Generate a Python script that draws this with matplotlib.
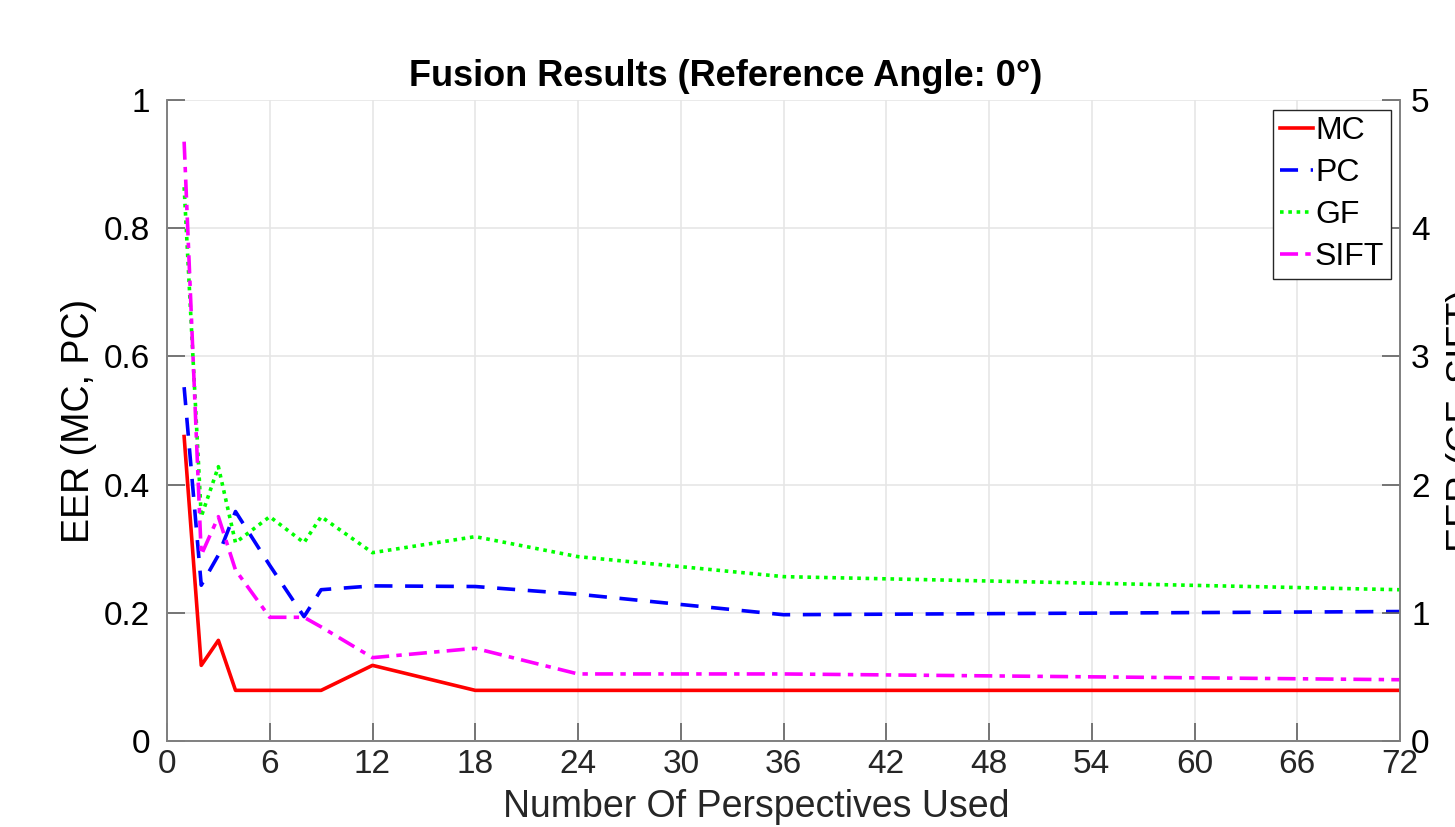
import matplotlib
matplotlib.use('Agg')
import matplotlib.pyplot as plt
from matplotlib.lines import Line2D

plt.rcParams['font.family'] = ['Liberation Sans', 'DejaVu Sans']

# numero de perspectivas usadas
x_vals = [1, 2, 3, 4, 6, 8, 9, 12, 18, 24, 36, 72]

# eje izquierdo
mc = [0.475, 0.118, 0.157, 0.079, 0.079, 0.079, 0.079, 0.118, 0.079, 0.079, 0.079, 0.079]
pc = [0.552, 0.243, 0.290, 0.358, 0.274, 0.194, 0.236, 0.242, 0.241, 0.229, 0.197, 0.202]

# eje derecho
gf = [4.32, 1.75, 2.14, 1.547, 1.75, 1.547, 1.75, 1.469, 1.594, 1.438, 1.282, 1.18]
sift = [4.675, 1.451, 1.75, 1.334, 0.965, 0.965, 0.89, 0.65, 0.723, 0.523, 0.523, 0.478]

x_ticks = list(range(0, 73, 6))

fig = plt.figure(figsize=(14.55, 8.27), dpi=100)
ax = fig.add_axes([167 / 1455, 1 - 741 / 827, (1400 - 167) / 1455, (741 - 100) / 827])
ax2 = ax.twinx()

lw = 2.6
ax.plot(x_vals, mc, color='#ff0000', linestyle='-', linewidth=lw)
ax.plot(x_vals, pc, color='#0000ff', linestyle=(0, (5, 3.5)), linewidth=lw)
ax2.plot(x_vals, gf, color='#00ff00', linestyle=(0, (1, 1.3)), linewidth=lw)
ax2.plot(x_vals, sift, color='#ff00ff', linestyle=(0, (5, 2, 1.5, 2)), linewidth=lw)

ax.set_xlim(0, 72)
ax.set_ylim(0, 1)
ax2.set_ylim(0, 5)
ax.set_xticks(x_ticks)
ax.set_yticks([0, 0.2, 0.4, 0.6, 0.8, 1])
ax.set_yticklabels(['0', '0.2', '0.4', '0.6', '0.8', '1'])
ax2.set_yticks([0, 1, 2, 3, 4, 5])

ax.grid(True, color='#e6e6e6', linewidth=1.2)
ax.set_axisbelow(True)

for a in (ax, ax2):
    a.spines['top'].set_visible(False)
    for s in ('left', 'right', 'bottom'):
        a.spines[s].set_color('#808080')
        a.spines[s].set_linewidth(1.2)
    a.tick_params(direction='in', length=13, width=1.2, color='#606060', labelsize=24)

ax.tick_params(axis='x', colors='#606060', labelcolor='#262626', pad=6)
ax.tick_params(axis='y', labelcolor='black', pad=12)
ax2.tick_params(axis='y', labelcolor='black', pad=8)

ax.set_xlabel('Number Of Perspectives Used', fontsize=27, color='#262626', labelpad=6)
ax.xaxis.set_label_coords(0.478, -0.075)
ax.set_ylabel('EER (MC, PC)', fontsize=27)
ax.yaxis.set_label_coords(-0.057, 0.5)
ax2.set_ylabel('EER (GF, SIFT)', fontsize=27, labelpad=12)
ax.set_title('Fusion Results (Reference Angle: 0°)', fontsize=26, fontweight='bold',
             pad=10, x=0.453)

handles = [
    Line2D([], [], color='#ff0000', linestyle='-', linewidth=lw),
    Line2D([], [], color='#0000ff', linestyle=(0, (5, 3.5)), linewidth=lw),
    Line2D([], [], color='#00ff00', linestyle=(0, (1, 1.3)), linewidth=lw),
    Line2D([], [], color='#ff00ff', linestyle=(0, (5, 2, 1.5, 2)), linewidth=lw),
]
leg = ax2.legend(handles, ['MC', 'PC', 'GF', 'SIFT'], loc='upper right',
                 bbox_to_anchor=(0.9925, 0.985), fontsize=23, handlelength=1.05,
                 handletextpad=0.05, borderpad=0.2, labelspacing=0.38,
                 borderaxespad=0, fancybox=False, framealpha=1)
leg.get_frame().set_edgecolor('#262626')
leg.get_frame().set_linewidth(1.0)

fig.savefig('out.png', dpi=100)
